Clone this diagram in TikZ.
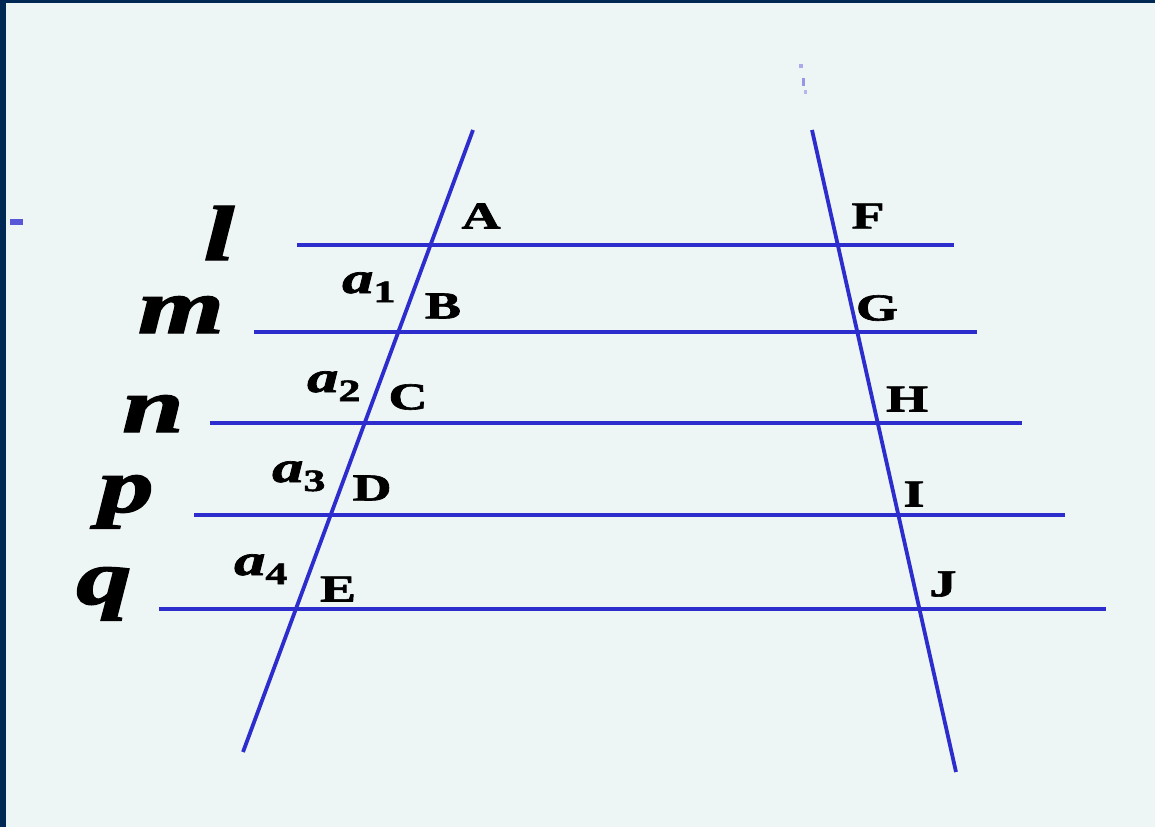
\documentclass[tikz,border=0pt]{standalone}
\usepackage{fontspec}
\usepackage{graphicx}
\setmainfont{Liberation Serif}[BoldFeatures={FakeBold=1.6}, BoldItalicFeatures={FakeBold=1.6}]
\definecolor{bgc}{RGB}{238,245,245}
\definecolor{navy}{RGB}{0,40,85}
\definecolor{lineblue}{RGB}{45,45,205}
\tikzset{
  ln/.style={draw=lineblue, line width=3.8pt},
  biglab/.style={inner sep=0pt, anchor=base, font=\fontsize{78}{78}\selectfont\bfseries\itshape},
  ptlab/.style={inner sep=0pt, anchor=center, font=\fontsize{38}{38}\selectfont\bfseries},
  alab/.style={inner sep=0pt, anchor=base west, font=\fontsize{44}{44}\selectfont\bfseries\itshape},
}
\newcommand{\hs}[1]{\scalebox{1.42}[1]{#1}}
\newcommand{\asub}[1]{\hs{a\raisebox{-9pt}{\fontsize{31}{31}\selectfont\upshape\bfseries #1}}}
\begin{document}
\begin{tikzpicture}[x=1pt,y=-1pt]
\useasboundingbox (0,0) rectangle (1155,827);
\fill[bgc] (0,0) rectangle (1155,827);
\fill[navy] (0,0) rectangle (1155,3);
\fill[navy] (0,0) rectangle (6,827);
% stray marks
\fill[lineblue!80] (10,218.5) rectangle (23,224.5);
\fill[lineblue!40] (799,64) rectangle (803,68);
\fill[lineblue!50] (802,78) rectangle (805,86);
\fill[lineblue!35] (804,90) rectangle (807,94);
% transversals
\coordinate (t1a) at (473,130);
\coordinate (t1b) at (243,752);
\coordinate (t2a) at (812,130);
\coordinate (t2b) at (956,772);
% parallels
\coordinate (l1) at (297,245);  \coordinate (l2) at (954,245);
\coordinate (m1) at (254,332);  \coordinate (m2) at (977,332);
\coordinate (n1) at (210,423);  \coordinate (n2) at (1022,423);
\coordinate (p1) at (194,515);  \coordinate (p2) at (1065,515);
\coordinate (q1) at (159,609);  \coordinate (q2) at (1106,609);
\draw[ln] (l1) -- (l2);
\draw[ln] (m1) -- (m2);
\draw[ln] (n1) -- (n2);
\draw[ln] (p1) -- (p2);
\draw[ln] (q1) -- (q2);
\draw[ln] (t1a) -- (t1b);
\draw[ln] (t2a) -- (t2b);
% line names
\node[biglab] (Ll) at (219,260) {\hs{l}};
\node[biglab] (Lm) at (181,333) {\hs{m}};
\node[biglab] (Ln) at (153,432) {\hs{n}};
\node[biglab] (Lp) at (126,512) {\hs{p}};
\node[biglab] (Lq) at (104,604) {\hs{q}};
% points
\node[ptlab] (A) at (481,216) {\hs{A}};
\node[ptlab] (B) at (443,306) {\hs{B}};
\node[ptlab] (C) at (408,397) {\hs{C}};
\node[ptlab] (D) at (372,488) {\hs{D}};
\node[ptlab] (E) at (338,589) {\hs{E}};
\node[ptlab] (F) at (868,216) {\hs{F}};
\node[ptlab] (G) at (877,308) {\hs{G}};
\node[ptlab] (H) at (907,399) {\hs{H}};
\node[ptlab] (I) at (914,494) {\hs{I}};
\node[ptlab] (J) at (943,584) {\hs{J}};
% a labels
\node[alab] (a1) at (342,293) {\asub{1}};
\node[alab] (a2) at (307,392) {\asub{2}};
\node[alab] (a3) at (272,482) {\asub{3}};
\node[alab] (a4) at (234,575) {\asub{4}};
\end{tikzpicture}
\end{document}
